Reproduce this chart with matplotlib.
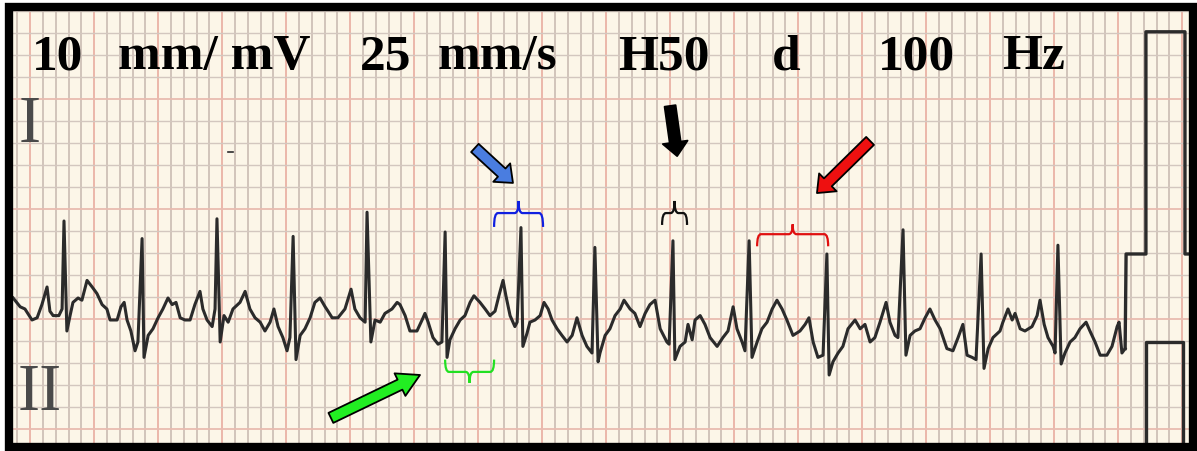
import numpy as np
import matplotlib
matplotlib.use('Agg')
import matplotlib.pyplot as plt
from matplotlib.patches import Rectangle, PathPatch
from matplotlib.path import Path

# lead II strip: time in s, amplitude in mV (25 mm/s, 10 mm/mV)
trace_t = [
    0.041, 0.063, 0.078, 0.100, 0.116, 0.131, 0.147, 0.156, 0.166, 0.184,
    0.194, 0.200, 0.209, 0.219, 0.228, 0.244, 0.256, 0.272, 0.288, 0.303,
    0.319, 0.334, 0.344, 0.366, 0.378, 0.388, 0.397, 0.409, 0.422, 0.431,
    0.444, 0.450, 0.463, 0.478, 0.494, 0.509, 0.525, 0.538, 0.550, 0.563,
    0.578, 0.594, 0.609, 0.625, 0.634, 0.647, 0.663, 0.672, 0.678, 0.688,
    0.700, 0.713, 0.728, 0.750, 0.766, 0.781, 0.797, 0.813, 0.828, 0.844,
    0.856, 0.869, 0.884, 0.897, 0.906, 0.916, 0.925, 0.938, 0.953, 0.969,
    0.984, 1.000, 1.016, 1.025, 1.038, 1.056, 1.078, 1.097, 1.109, 1.125,
    1.141, 1.147, 1.159, 1.172, 1.188, 1.203, 1.225, 1.241, 1.250, 1.266,
    1.281, 1.303, 1.319, 1.328, 1.338, 1.353, 1.369, 1.381, 1.391, 1.397,
    1.406, 1.422, 1.438, 1.453, 1.469, 1.481, 1.500, 1.516, 1.531, 1.547,
    1.559, 1.572, 1.581, 1.594, 1.609, 1.616, 1.628, 1.634, 1.647, 1.656,
    1.672, 1.688, 1.700, 1.713, 1.725, 1.741, 1.756, 1.772, 1.788, 1.803,
    1.819, 1.834, 1.850, 1.859, 1.869, 1.875, 1.891, 1.906, 1.922, 1.938,
    1.950, 1.969, 1.984, 2.000, 2.016, 2.031, 2.047, 2.063, 2.084, 2.091,
    2.103, 2.109, 2.125, 2.141, 2.150, 2.163, 2.172, 2.188, 2.203, 2.219,
    2.241, 2.259, 2.275, 2.291, 2.303, 2.319, 2.328, 2.341, 2.350, 2.366,
    2.381, 2.397, 2.413, 2.428, 2.444, 2.459, 2.478, 2.500, 2.516, 2.528,
    2.541, 2.556, 2.572, 2.584, 2.591, 2.603, 2.619, 2.634, 2.650, 2.672,
    2.688, 2.703, 2.719, 2.734, 2.750, 2.769, 2.781, 2.797, 2.806, 2.822,
    2.831, 2.844, 2.859, 2.875, 2.891, 2.906, 2.922, 2.938, 2.959, 2.978,
    2.994, 3.009, 3.022, 3.038, 3.050, 3.066, 3.075, 3.088, 3.103, 3.125,
    3.134, 3.150, 3.163, 3.172, 3.188, 3.203, 3.225, 3.241, 3.250, 3.263,
    3.275, 3.291, 3.297, 3.306, 3.316, 3.328, 3.344, 3.359, 3.375, 3.394,
    3.406, 3.422, 3.438, 3.459, 3.475, 3.491, 3.497, 3.506, 3.516,
]
trace_mv = [
    0.10, 0.06, 0.05, 0.00, 0.01, 0.07, 0.15, 0.04, 0.02, 0.02,
    0.05, 0.45, -0.05, 0.02, 0.08, 0.10, 0.09, 0.18, 0.15, 0.12,
    0.07, 0.05, 0.00, 0.00, 0.06, 0.08, 0.00, -0.05, -0.14, -0.10,
    0.37, -0.17, -0.07, -0.04, 0.01, 0.05, 0.10, 0.07, 0.08, 0.01,
    0.00, 0.00, 0.07, 0.13, 0.05, 0.00, -0.03, 0.05, 0.46, -0.10,
    0.02, -0.01, 0.05, 0.08, 0.13, 0.05, 0.01, -0.01, -0.05, -0.01,
    0.05, -0.03, -0.08, -0.14, -0.08, 0.38, -0.18, -0.07, -0.04, 0.01,
    0.08, 0.10, 0.06, 0.04, 0.01, 0.01, 0.05, 0.14, 0.05, 0.01,
    -0.01, 0.49, -0.10, 0.00, -0.01, 0.03, 0.05, 0.08, 0.07, 0.02,
    -0.05, -0.05, 0.00, 0.03, -0.01, -0.08, -0.11, -0.10, 0.40, -0.17,
    -0.09, -0.04, 0.00, 0.02, 0.08, 0.11, 0.08, 0.05, 0.02, 0.04,
    0.11, 0.18, 0.11, 0.02, -0.03, -0.01, 0.42, -0.12, -0.06, -0.01,
    0.00, 0.02, 0.08, 0.05, 0.00, -0.04, -0.07, -0.10, -0.07, 0.01,
    -0.07, -0.12, -0.15, 0.33, -0.19, -0.15, -0.07, -0.04, 0.02, 0.05,
    0.09, 0.05, 0.03, -0.03, 0.03, 0.07, 0.09, -0.04, -0.10, -0.11,
    0.36, -0.18, -0.12, -0.10, -0.02, -0.09, 0.00, 0.02, -0.02, -0.08,
    -0.12, -0.08, -0.05, 0.06, -0.04, -0.10, -0.14, 0.36, -0.17, -0.10,
    -0.04, -0.01, 0.05, 0.09, 0.05, 0.00, -0.07, -0.05, -0.02, 0.01,
    -0.10, -0.17, -0.16, 0.30, -0.25, -0.19, -0.15, -0.12, -0.04, 0.00,
    -0.04, -0.02, -0.10, -0.08, -0.01, 0.08, -0.01, -0.07, -0.08, 0.41,
    -0.16, -0.07, -0.05, -0.04, 0.01, 0.05, 0.00, -0.04, -0.13, -0.14,
    -0.08, -0.02, -0.16, -0.17, -0.18, 0.30, -0.22, -0.13, -0.08, -0.05,
    -0.01, 0.05, 0.00, 0.03, -0.04, -0.05, -0.03, 0.02, 0.09, -0.02,
    -0.08, -0.12, -0.15, 0.34, -0.20, -0.15, -0.10, -0.08, -0.04, -0.01,
    -0.05, -0.10, -0.16, -0.16, -0.12, -0.03, -0.01, -0.15, -0.13,
]

# 1 mV calibration pulses at the end of the strip
cal_t = [3.516, 3.519, 3.581, 3.581, 3.703, 3.703, 3.719]
cal_mv = [-0.13, 0.30, 0.30, 1.31, 1.31, 0.30, 0.30]
cal2_t = [3.581, 3.581, 3.697, 3.697]
cal2_mv = [-0.56, -0.10, -0.10, -0.56]

header_labels = ['10', 'mm/ mV', '25', 'mm/s', 'H50', 'd', '100', 'Hz']
header_x = [0.0485, 0.1788, 0.3225, 0.4152, 0.5547, 0.6566, 0.7652, 0.8638]

# marked segments (start s, end s, level mV, arm mV, tip mV, colour)
braces = [
    (1.544, 1.697, 0.486, -0.063, 0.055, '#1020e0'),
    (2.069, 2.147, 0.486, -0.054, 0.055, '#111111'),
    (2.366, 2.588, 0.390, -0.055, 0.045, '#e01010'),
    (1.391, 1.544, -0.236, 0.056, -0.050, '#22e022'),
]
# arrows (tail s, tail mV, tip s, tip mV, colour, head length)
arrows = [
    (1.484, 0.782, 1.603, 0.623, '#4a7de0', 1.1),
    (2.094, 0.973, 2.116, 0.745, '#000000', 1.0),
    (2.719, 0.814, 2.553, 0.577, '#ee1010', 1.1),
    (1.034, -0.445, 1.3125, -0.250, '#22ee22', 1.6),
]

paper = '#fcf6e8'
ink = '#2b2b2b'

fig = plt.figure(figsize=(11.97, 4.51), dpi=100, facecolor='white')
ax = fig.add_axes([0, 0, 1, 1], facecolor=paper)
ax.set_xlim(0, 3.7406)
ax.set_ylim(-0.5955, 1.4545)
ax.axis('off')
ax.add_patch(Rectangle((0, 0), 1, 1, transform=ax.transAxes, fc=paper, ec='none', zorder=0))

# ECG paper grid: 0.04 s x 0.1 mV small boxes
for k, t in enumerate(np.arange(0.0144, 3.75, 0.04)):
    if k % 5 == 2:
        ax.axvline(t, color='#ebb7aa', lw=1.4, zorder=1)
    else:
        ax.axvline(t, color='#c6b7ae', lw=1.1, zorder=1)
for k in range(-6, 15):
    v = 0.005 + 0.1 * k
    if k % 5 == 0:
        ax.axhline(v, color='#e9bcb0', lw=1.3, zorder=1)
    else:
        ax.axhline(v, color='#d3c7bf', lw=1.0, zorder=1)

ax.plot(trace_t, trace_mv, color=ink, lw=2.2, solid_joinstyle='round', zorder=3)
ax.plot(cal_t, cal_mv, color=ink, lw=2.4, zorder=3)
ax.plot(cal2_t, cal2_mv, color=ink, lw=2.4, zorder=3)
ax.plot([0.713, 0.728], [0.764, 0.764], color=ink, lw=1.2, zorder=3)

for t0, t1, level, arm, tip, col in braces:
    tc = (t0 + t1) / 2
    r = 0.012
    verts = [(t0, level + arm), (t0, level), (t0 + r, level),
             (tc - r, level), (tc, level), (tc, level + tip),
             (tc, level), (tc + r, level),
             (t1 - r, level), (t1, level), (t1, level + arm)]
    codes = [Path.MOVETO, Path.CURVE3, Path.CURVE3,
             Path.LINETO, Path.CURVE3, Path.CURVE3,
             Path.CURVE3, Path.CURVE3,
             Path.LINETO, Path.CURVE3, Path.CURVE3]
    ax.add_patch(PathPatch(Path(verts, codes), fc='none', ec=col, lw=1.6, zorder=4))

for t0, v0, t1, v1, col, hl in arrows:
    ax.annotate('', xy=(t1, v1), xytext=(t0, v0),
                arrowprops=dict(arrowstyle='simple,head_length=%.1f,head_width=1.8,tail_width=0.8' % hl,
                                fc=col, ec='black', lw=1.3, shrinkA=0, shrinkB=0,
                                mutation_scale=10),
                zorder=5)

for lab, x in zip(header_labels, header_x):
    ax.text(x, 0.847, lab, transform=ax.transAxes, ha='center', va='baseline',
            fontsize=37, fontweight='bold', family='Liberation Serif', color='black', zorder=6)

ax.text(0.025, 0.685, 'I', transform=ax.transAxes, ha='center', va='baseline',
        fontsize=48, family='Liberation Serif', color='#4a4a4a', zorder=6)
ax.text(0.033, 0.091, 'II', transform=ax.transAxes, ha='center', va='baseline',
        fontsize=48, family='Liberation Serif', color='#4a4a4a', zorder=6)

# white margin and black frame of the original figure
fig.patches.append(Rectangle((0, 0), 5 / 1197, 1, transform=fig.transFigure, fc='white', ec='none', zorder=9))
fig.patches.append(Rectangle((0, 1 - 3 / 451), 1, 3 / 451, transform=fig.transFigure, fc='white', ec='none', zorder=9))
fig.patches.append(Rectangle((9 / 1197, 1 - 447 / 451), (1193.5 - 9) / 1197, (447 - 6.5) / 451,
                             transform=fig.transFigure, fc='none', ec='black', lw=6.0, zorder=10))

fig.savefig('out.png', dpi=100, facecolor='white')
